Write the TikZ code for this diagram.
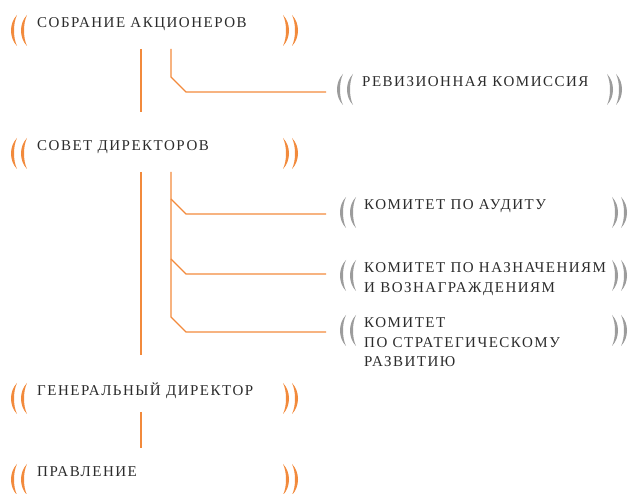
\documentclass[tikz,border=0pt]{standalone}
\usepackage{fontspec}
\setmainfont{Liberation Serif}[LetterSpace=10]
\usetikzlibrary{calc}
\definecolor{orgline}{HTML}{F28A3C}
\definecolor{grybr}{HTML}{9C9C9C}
\definecolor{txtgray}{HTML}{2B2B2B}
\tikzset{
  lbr/.pic={
    \fill (0,0) .. controls (-8,8) and (-8,23) .. (0,31) .. controls (-4,23) and (-4,8) .. cycle;
    \fill (10,0) .. controls (2,8) and (2,23) .. (10,31) .. controls (6,23) and (6,8) .. cycle;
  },
  rbr/.pic={
    \fill (0,0) .. controls (8,8) and (8,23) .. (0,31) .. controls (4,23) and (4,8) .. cycle;
    \fill (9,0) .. controls (17,8) and (17,23) .. (9,31) .. controls (13,23) and (13,8) .. cycle;
  },
  unit/.style={anchor=base west, inner sep=0pt, text=txtgray,
    font=\fontsize{15}{19.5}\selectfont},
  link/.style={draw=orgline, line width=1.2pt},
}
\begin{document}
\begin{tikzpicture}[x=1pt,y=-1pt]
    \useasboundingbox (0,0) rectangle (630,494);
    \coordinate (trunk) at (141,0);
    \coordinate (branch) at (171,0);
    \coordinate (rmain) at (283,0);
    \coordinate (rcom) at (612,0);

    % Governing bodies
    \node[unit] (sobr) at (37,28) {СОБРАНИЕ АКЦИОНЕРОВ};
    \node[unit] (sovet) at (37,151) {СОВЕТ ДИРЕКТОРОВ};
    \node[unit] (gendir) at (37,396) {ГЕНЕРАЛЬНЫЙ ДИРЕКТОР};
    \node[unit] (pravl) at (37,477) {ПРАВЛЕНИЕ};

    % Committees
    \node[unit] (reviz) at (362,87) {РЕВИЗИОННАЯ КОМИССИЯ};
    \node[unit] (audit) at (364,210) {КОМИТЕТ ПО АУДИТУ};
    \node[unit] (nazn) at (364,273)
        {\begin{tabular}[t]{@{}l@{}}КОМИТЕТ ПО НАЗНАЧЕНИЯМ\\И ВОЗНАГРАЖДЕНИЯМ\end{tabular}};
    \node[unit] (strat) at (364,328)
        {\begin{tabular}[t]{@{}l@{}}КОМИТЕТ\\ПО СТРАТЕГИЧЕСКОМУ\\РАЗВИТИЮ\end{tabular}};

    % Brackets
    \foreach \n in {sobr,sovet,gendir,pravl}{
        \pic[orgline] at ($(\n.base west)+(-20,-13)$) {lbr};
        \pic[orgline] at ($(\n.base -| rmain)+(0,-13)$) {rbr};
    }
    \foreach \n in {audit,nazn,strat}{
        \pic[grybr] at ($(\n.base west)+(-18,-13)$) {lbr};
        \pic[grybr] at ($(\n.base -| rcom)+(0,-13)$) {rbr};
    }
    \pic[grybr] at ($(reviz.base west)+(-19,-13)$) {lbr};
    \pic[grybr] at ($(reviz.base -| rcom)+(-5,-13)$) {rbr};

    % Connections
    \draw[link] ($(sobr.base -| trunk)+(0,21)$) -- ($(sovet.base -| trunk)+(0,-39)$);
    \draw[link] ($(sobr.base -| branch)+(0,21)$) -- ($(reviz.base -| branch)+(0,-10)$)
        -- ++(15,15) -- ($(reviz.base west)+(-36,5)$);
    \draw[link] ($(sovet.base -| trunk)+(0,21)$) -- ($(gendir.base -| trunk)+(0,-41)$);
    \draw[link] ($(sovet.base -| branch)+(0,21)$) -- ($(strat.base -| branch)+(0,-11)$)
        -- ++(15,15) -- ($(strat.base west)+(-38,4)$);
    \draw[link] ($(audit.base -| branch)+(0,-11)$) -- ++(15,15) -- ($(audit.base west)+(-38,4)$);
    \draw[link] ($(nazn.base -| branch)+(0,-14)$) -- ++(15,15) -- ($(nazn.base west)+(-38,1)$);
    \draw[link] ($(gendir.base -| trunk)+(0,16)$) -- ($(pravl.base -| trunk)+(0,-29)$);
\end{tikzpicture}
\end{document}
